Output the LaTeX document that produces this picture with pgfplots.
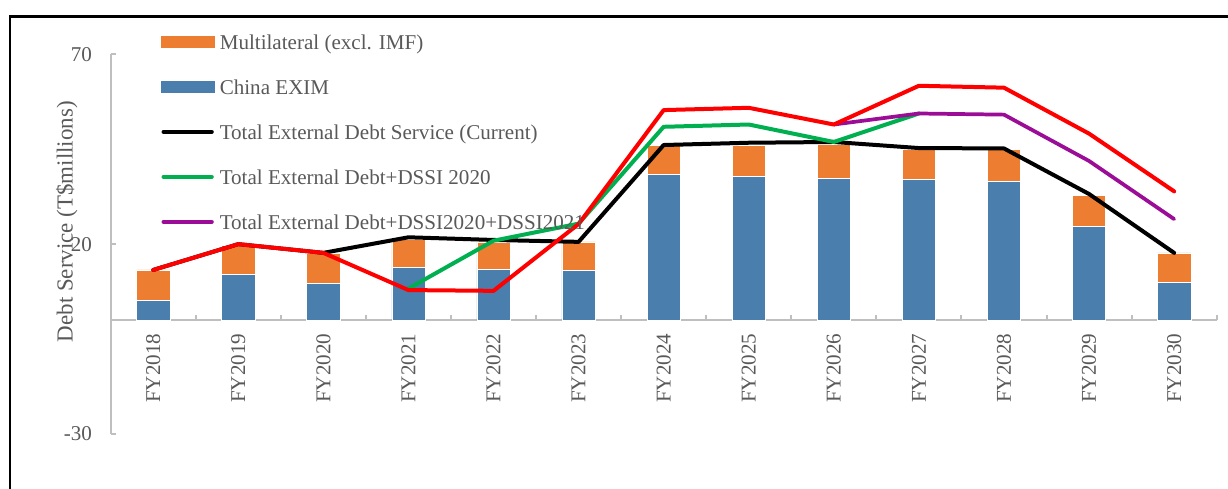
\documentclass[border=0pt]{standalone}
\usepackage{fontspec}
\setmainfont{Liberation Serif}
\usepackage{pgfplots}
\pgfplotsset{compat=1.18}
\definecolor{cblue}{HTML}{4A7EAC}
\definecolor{corange}{HTML}{ED7D31}
\definecolor{cgreen}{HTML}{00B050}
\definecolor{cpurple}{HTML}{9B0D96}
\definecolor{cred}{HTML}{FF0000}
\definecolor{axisgray}{HTML}{BFBFBF}
\definecolor{txtgray}{HTML}{595959}
\newcommand\lbfont{\fontsize{15.8}{18}\selectfont}
\begin{document}
\begin{tikzpicture}
\path[use as bounding box] (0pt,0pt) rectangle (921pt,-366.75pt);
\draw[line width=2pt] (7.5pt,-368pt) -- (7.5pt,-12.5pt) -- (923pt,-12.5pt);
\begin{axis}[
  at={(83pt,-325.5pt)}, anchor=south west,
  scale only axis, width=829.5pt, height=284.8pt,
  xmin=-0.5, xmax=12.5, ymin=-30, ymax=70,
  axis x line=middle, axis y line=left,
  axis line style={draw=axisgray, line width=1.5pt, -},
  every inner x axis line/.append style={-},
  every outer y axis line/.append style={-},
  hide obscured x ticks=false,
  ybar stacked, bar width=25pt,
  reverse stacked plots=false,
  xtick={-0.5,0.5,1.5,2.5,3.5,4.5,5.5,6.5,7.5,8.5,9.5,10.5,11.5,12.5},
  x tick label as interval,
  xticklabels={FY2018,FY2019,FY2020,FY2021,FY2022,FY2023,FY2024,FY2025,FY2026,FY2027,FY2028,FY2029,FY2030},
  ytick={-30,20,70}, yticklabels={-30,20,70},
  tick align=inside, major tick length=3.75pt,
  tick style={draw=axisgray, line width=1.5pt},
  xticklabel style={yshift=-10pt, rotate=90, anchor=east, inner sep=0pt},
  yticklabel style={inner sep=0pt, xshift=-13.8pt, anchor=east},
  tick label style={font=\lbfont, text=txtgray},
  every axis y label/.style={at={(axis description cs:-0.0398,0.559)}, rotate=90, anchor=center, font=\fontsize{17.2}{20}\selectfont, text=txtgray},
  ylabel={Debt Service (T\$millions)},
  legend cell align=left,
  legend style={at={(axis description cs:0.0455,1.052)}, anchor=north west, draw=none, fill=none, inner sep=0pt, row sep=19.25pt, column sep=4.3pt, font=\lbfont, nodes={inner sep=0pt, text height=11pt, text depth=3.5pt, text=txtgray}},
]
\addlegendimage{legend image code/.code={\fill[corange] (0pt,-1.95pt) rectangle (39.2pt,5.95pt);}}
\addlegendentry{Multilateral (excl. IMF)}
\addlegendimage{legend image code/.code={\fill[cblue] (0pt,-1.95pt) rectangle (39.2pt,5.95pt);}}
\addlegendentry{China EXIM}
\addlegendimage{legend image code/.code={\draw[black, line width=3pt, line cap=round] (1.5pt,2pt) -- (37.7pt,2pt);}}
\addlegendentry{Total External Debt Service (Current)}
\addlegendimage{legend image code/.code={\draw[cgreen, line width=3pt, line cap=round] (1.5pt,2pt) -- (37.7pt,2pt);}}
\addlegendentry{Total External Debt+DSSI 2020}
\addlegendimage{legend image code/.code={\draw[cpurple, line width=3pt, line cap=round] (1.5pt,2pt) -- (37.7pt,2pt);}}
\addlegendentry{Total External Debt+DSSI2020+DSSI2021}

% China EXIM
\addplot[fill=cblue, draw=white, line width=0.4pt] coordinates {
(0,5.1) (1,12.1) (2,9.8) (3,14.0) (4,13.5) (5,13.0) (6,38.4) (7,37.9) (8,37.4) (9,37.0) (10,36.6) (11,24.8) (12,9.9)};
% Multilateral (excl. IMF)
\addplot[fill=corange, draw=white, line width=0.4pt] coordinates {
(0,8.1) (1,7.6) (2,7.8) (3,7.2) (4,7.1) (5,7.6) (6,7.7) (7,8.2) (8,8.9) (9,8.0) (10,8.4) (11,8.1) (12,7.8)};
% Total External Debt Service (Current)
\addplot[sharp plot, stack plots=false, black, line width=3pt, line join=round, line cap=round, no markers] coordinates {
(0,13.2) (1,20.0) (2,17.7) (3,21.8) (4,21.1) (5,20.6) (6,46.1) (7,46.7) (8,46.9) (9,45.3) (10,45.2) (11,33.2) (12,17.7)};
% Total External Debt+DSSI 2020
\addplot[sharp plot, stack plots=false, cgreen, line width=3pt, line join=round, line cap=round, no markers] coordinates {
(3,8.3) (4,20.9) (5,25.4) (6,50.9) (7,51.5) (8,46.9) (9,54.4)};
% Total External Debt+DSSI2020+DSSI2021
\addplot[sharp plot, stack plots=false, cpurple, line width=2.8pt, line join=round, line cap=round, no markers] coordinates {
(8,51.5) (9,54.4) (10,54.1) (11,41.9) (12,26.6)};
% red series
\addplot[sharp plot, stack plots=false, cred, line width=3pt, line join=round, line cap=round, no markers] coordinates {
(0,13.2) (1,20.0) (2,17.7) (3,7.9) (4,7.7) (5,25.3) (6,55.3) (7,55.9) (8,51.5) (9,61.7) (10,61.2) (11,49.1) (12,33.9)};
\end{axis}
\end{tikzpicture}
\end{document}
